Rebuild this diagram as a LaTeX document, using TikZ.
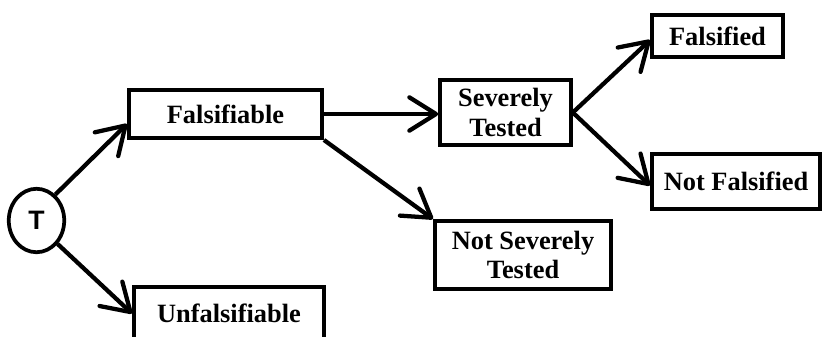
\documentclass[tikz,border=0pt]{standalone}
\usepackage{fontspec}
\setmainfont{Liberation Serif}
\newfontfamily\tfont{Liberation Sans}
\usepackage{tikz}
\usetikzlibrary{
  arrows.meta,
  shapes.geometric,
  positioning,
  calc
}
\definecolor{pInk}{HTML}{000000}
\tikzset{
  pnode/.style={
    draw=pInk, line width=3pt, inner sep=0pt, align=center,
    font=\fontsize{19.8}{22}\selectfont\bfseries
  },
  pbox/.style={pnode, rectangle},
  pcirc/.style={pnode, ellipse, line width=2.8pt, minimum width=41.6pt, minimum height=47.6pt,
    font=\fontsize{20}{22}\selectfont\tfont\bfseries},
  pflow/.style={-{Straight Barb[length=20pt, width=25pt, round]}, line width=3.2pt, pInk}
}

\begin{document}
\begin{tikzpicture}[x=0.75pt, y=-0.75pt]
  \clip (0,0) rectangle (828,336);
  \node[pcirc] (th) at (36.5,220.5) {T};
  \node[pbox, minimum width=144.7pt, minimum height=36pt] (fabl) at (225.5,114) {Falsifiable};
  \node[pbox, minimum width=142.5pt, minimum height=40pt] (unf) at (229,313.5) {Unfalsifiable};
  \node[pbox, minimum width=98pt, minimum height=48.7pt] (sev) at (505.5,112.5) {Severely\\Tested};
  \node[pbox, minimum width=132pt, minimum height=51pt] (nsev) at (523,255) {Not Severely\\Tested};
  \node[pbox, minimum width=98pt, minimum height=31.5pt] (fals) at (717.5,36) {Falsified};
  \node[pbox, minimum width=126pt, minimum height=41pt] (nfals) at (736,181.5) {Not Falsified};
  % connectors
  \draw[pflow] (th.54) -- ($(fabl.south west)+(0,-16)$);
  \draw[pflow] (th.-48) -- (unf.west);
  \draw[pflow] (fabl.east) -- (fabl.east -| sev.west);
  \draw[pflow] (fabl.south east) -- (nsev.north west);
  \draw[pflow] (sev.east) -- ($(fals.west)+(0,4)$);
  \draw[pflow] (sev.east) -- ($(nfals.west)+(0,4)$);
\end{tikzpicture}
\end{document}
